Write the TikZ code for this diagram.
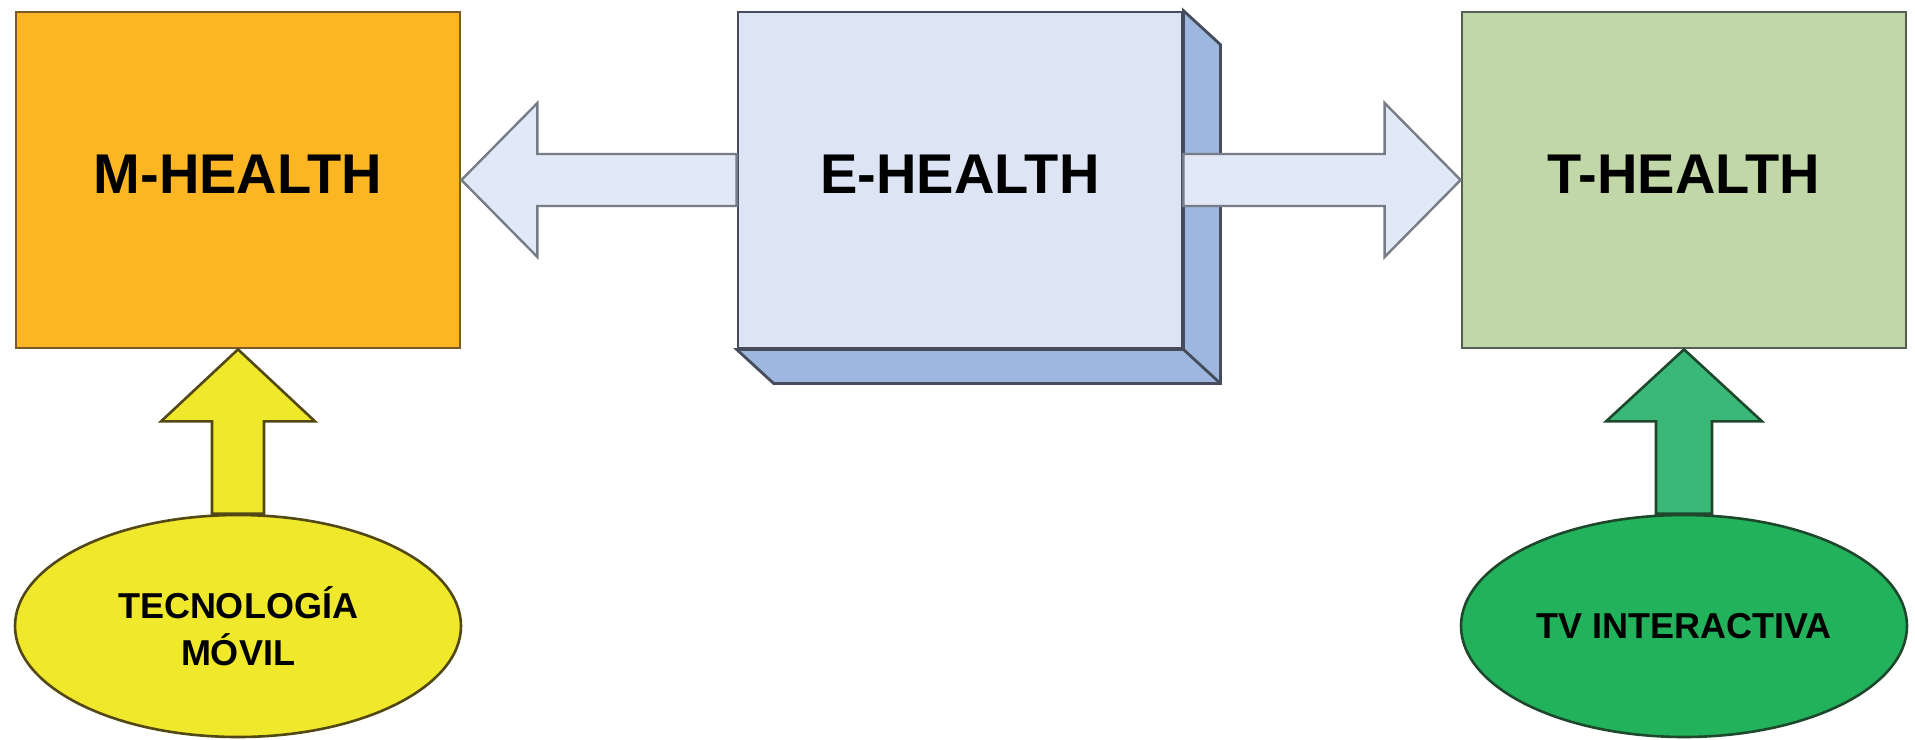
\documentclass[tikz,border=0pt]{standalone}
\usepackage{fontspec}
\setmainfont{Liberation Sans}
\usepackage{tikz}
\usetikzlibrary{calc,positioning,shapes.geometric}

\definecolor{mfill}{RGB}{252,182,36}
\definecolor{mline}{RGB}{120,90,45}
\definecolor{efill}{RGB}{221,229,245}
\definecolor{eside}{RGB}{158,183,222}
\definecolor{eline}{RGB}{70,76,92}
\definecolor{tfill}{RGB}{194,215,167}
\definecolor{tline}{RGB}{85,95,82}
\definecolor{arrowfill}{RGB}{226,233,246}
\definecolor{arrowline}{RGB}{118,124,136}
\definecolor{yfill}{RGB}{240,232,42}
\definecolor{yline}{RGB}{82,72,20}
\definecolor{gfill}{RGB}{34,178,92}
\definecolor{garrow}{RGB}{58,184,120}
\definecolor{gline}{RGB}{30,72,44}

\begin{document}
\begin{tikzpicture}[x=0.5pt,y=-0.5pt,
	healthbox/.style={draw, line width=1.4pt, minimum width=222pt, minimum height=168pt, inner sep=0pt, text depth=6pt, font=\fontsize{28}{28}\selectfont\bfseries},
	techoval/.style={ellipse, draw, line width=1.3pt, minimum width=223pt, minimum height=111pt, inner sep=0pt, align=center, font=\fontsize{18}{23.5}\selectfont\bfseries},
	flowarrow/.style={draw=arrowline, fill=arrowfill, line width=1.2pt, line join=miter},
	uparrow/.style={line width=1.3pt, line join=miter}]
	\useasboundingbox (0,0) rectangle (1915,739);

	\node[healthbox, draw=mline, fill=mfill] (mhealth) at (238,180) {M-HEALTH};
	\node[healthbox, draw=eline, fill=efill] (ehealth) at (960,180) {E-HEALTH};
	\node[healthbox, draw=tline, fill=tfill] (thealth) at (1684,180) {T-HEALTH};
	\node[techoval, draw=yline, fill=yfill] (tecno) at (238,626) {TECNOLOGÍA\\MÓVIL};
	\node[techoval, draw=gline, fill=gfill] (tv) at (1684,626) {TV INTERACTIVA};

	\draw[eline, fill=eside, line width=1.4pt, line join=miter] (ehealth.north east) -- ($(ehealth.north east)+(37,34)$) -- ($(ehealth.south east)+(37,34)$) -- ($(ehealth.south west)+(37,34)$) -- (ehealth.south west) -- (ehealth.south east) -- cycle;
	\draw[eline, line width=1.4pt] (ehealth.south east) -- ++(37,34);

	\draw[flowarrow] (mhealth.east) -- ++(76,-77) -- ++(0,51) -- ($(ehealth.west)+(0,-26)$) -- ($(ehealth.west)+(0,26)$) -- ($(mhealth.east)+(76,26)$) -- ++(0,51) -- cycle;
	\draw[flowarrow] (thealth.west) -- ++(-76,-77) -- ++(0,51) -- ($(ehealth.east)+(0,-26)$) -- ($(ehealth.east)+(0,26)$) -- ($(thealth.west)+(-76,26)$) -- ++(0,51) -- cycle;

	\draw[uparrow, draw=yline, fill=yfill] (mhealth.south) -- ++(77,72) -- ++(-51,0) -- ($(tecno.north)+(26,0)$) -- ($(tecno.north)+(-26,0)$) -- ($(mhealth.south)+(-26,72)$) -- ++(-51,0) -- cycle;
	\draw[uparrow, draw=gline, fill=garrow] (thealth.south) -- ++(78,72) -- ++(-50,0) -- ($(tv.north)+(28,0)$) -- ($(tv.north)+(-28,0)$) -- ($(thealth.south)+(-28,72)$) -- ++(-50,0) -- cycle;
\end{tikzpicture}
\end{document}
